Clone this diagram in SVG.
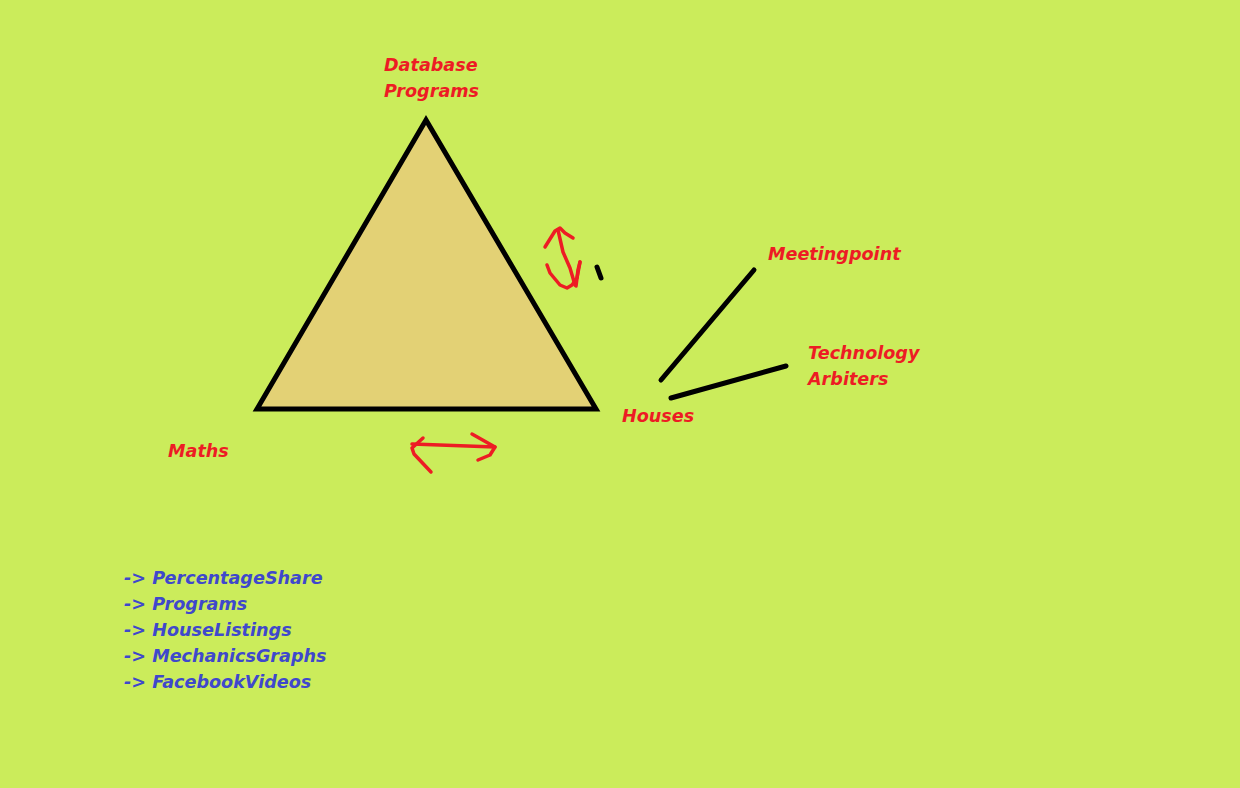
<svg xmlns="http://www.w3.org/2000/svg" width="1240" height="788" viewBox="0 0 1240 788">
<style>
.lbl{font-family:"DejaVu Sans","Liberation Sans",sans-serif;font-weight:bold;font-style:oblique;font-size:17.6px;fill:#ED1C24}
.lst{font-family:"DejaVu Sans","Liberation Sans",sans-serif;font-weight:bold;font-style:oblique;font-size:17.6px;fill:#3F48CC}
.blk{stroke:#000;stroke-width:5;stroke-linecap:round;fill:none}
.red{stroke:#ED1C24;stroke-width:3.5;stroke-linecap:round;stroke-linejoin:round;fill:none}
</style>
<rect width="1240" height="788" fill="#CBEC5B"/>
<g id="triangle">
<polygon points="426,120 257,409 596,409" fill="#E3D175" stroke="#000" stroke-width="5" stroke-linejoin="miter"/>
</g>
<g id="database"><text class="lbl" x="384" y="71">Database</text><text class="lbl" x="384" y="97">Programs</text></g>
<g id="maths"><text class="lbl" x="168" y="457">Maths</text></g>
<g id="houses"><text class="lbl" x="622" y="422">Houses</text></g>
<g id="meetingpoint"><text class="lbl" x="768" y="260">Meetingpoint</text></g>
<g id="technology"><text class="lbl" x="808" y="359">Technology</text><text class="lbl" x="808" y="385">Arbiters</text></g>
<g id="list">
<text class="lst" x="124" y="584">-&gt; PercentageShare</text>
<text class="lst" x="124" y="610">-&gt; Programs</text>
<text class="lst" x="124" y="636">-&gt; HouseListings</text>
<text class="lst" x="124" y="662">-&gt; MechanicsGraphs</text>
<text class="lst" x="124" y="688">-&gt; FacebookVideos</text>
</g>
<g id="connectors">
<line class="blk" x1="661" y1="380" x2="754" y2="270"/>
<line class="blk" x1="671" y1="398" x2="786" y2="366"/>
<line class="blk" x1="597" y1="267" x2="601" y2="278"/>
<path class="red" d="M545,247 L555,231 L560,228 L565,233 L573,238"/>
<path class="red" d="M558,230 L563,252 L570,268 L575,285"/>
<path class="red" d="M547,265 L550,273 L560,285 L567,288 L572,285 L577,278 L580,262"/>
<path class="red" d="M576,286 L578,270 L580,262"/>
<path class="red" d="M412,444 L495,447"/>
<path class="red" d="M423,438 L412,448 L414,454 L431,472"/>
<path class="red" d="M472,434 L495,447 L490,455 L478,460"/>
</g>
</svg>
